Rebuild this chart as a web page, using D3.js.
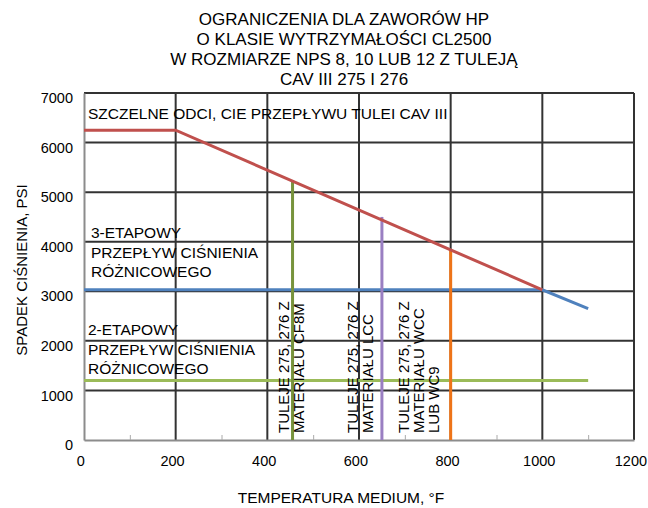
<!DOCTYPE html>
<head>
  <meta charset="utf-8">
  <style>
    body { margin: 0; background: #fff; }
    svg text { font-family: "Liberation Sans", Arial, sans-serif; fill: #000; }
    svg .grid { stroke: #333; stroke-width: 2px; }
    svg .axis .domain { stroke: #8c8c8c; stroke-width: 2px; }
    svg .axis line { stroke: #aaa; }
    svg .tick text { font-size: 14.5px; }
  </style>
</head>
<body>
<script src="https://cdn.jsdelivr.net/npm/d3@7"></script>
<script>
  // chart values
  var titleLines = ["OGRANICZENIA DLA ZAWORÓW HP", "O KLASIE WYTRZYMAŁOŚCI CL2500",
                    "W ROZMIARZE NPS 8, 10 LUB 12 Z TULEJĄ", "CAV III 275 I 276"];
  var xTicks = [0, 200, 400, 600, 800, 1000, 1200];
  var xMinor = [100, 300, 500, 700, 900, 1100];
  var yTicks = [0, 1000, 2000, 3000, 4000, 5000, 6000, 7000];

  var sealTemp = [0, 200, 1000];           // szczelne odcięcie
  var sealPsi  = [6250, 6250, 3030];
  var threeTemp = [0, 1000, 1100];         // 3-etapowy
  var threePsi  = [3030, 3030, 2650];
  var twoTemp = [0, 1100];                 // 2-etapowy
  var twoPsi  = [1200, 1200];

  var matTemp  = [455, 650, 800];
  var matPsi   = [5240, 4500, 3840];
  var matColor = ["#77933c", "#9a7fc2", "#ee7418"];
  var matLabels = [["TULEJE 275, 276 Z", "MATERIAŁU CF8M"],
                   ["TULEJE 275, 276 Z", "MATERIAŁU LCC"],
                   ["TULEJE 275, 276 Z", "MATERIAŁU WCC", "LUB WC9"]];

  var width = 648, height = 508;
  var svg = d3.select("body").append("svg")
      .attr("width", width)
      .attr("height", height);

  var x = d3.scaleLinear().domain([0, 1200]).range([84, 634]);
  var y = d3.scaleLinear().domain([0, 7000]).range([440, 93]);

  // title
  svg.append("g").selectAll("text")
    .data(titleLines).enter()
    .append("text")
      .attr("x", 344)
      .attr("y", function (d, i) { return 25 + i * 20; })
      .attr("text-anchor", "middle")
      .style("font-size", "17px")
      .text(function (d) { return d; });

  // grid
  svg.append("g").selectAll("line")
    .data(yTicks.slice(1)).enter()
    .append("line")
      .classed("grid", true)
      .attr("x1", x(0)).attr("x2", x(1200))
      .attr("y1", function (d) { return y(d); })
      .attr("y2", function (d) { return y(d); });
  svg.append("g").selectAll("line")
    .data(xTicks.slice(1)).enter()
    .append("line")
      .classed("grid", true)
      .attr("y1", y(0)).attr("y2", y(7000))
      .attr("x1", function (d) { return x(d); })
      .attr("x2", function (d) { return x(d); });

  // axes
  var xAxis = d3.axisBottom(x).tickValues(xMinor).tickSizeInner(-5).tickSizeOuter(0).tickFormat("");
  svg.append("g").classed("axis", true)
      .attr("transform", "translate(0," + y(0) + ")")
      .call(xAxis);
  svg.append("g").classed("axis", true)
      .attr("transform", "translate(0," + y(0) + ")")
      .call(d3.axisBottom(x).tickValues(xTicks).tickSize(0).tickPadding(16).tickFormat(d3.format("d")))
    .call(function (g) {
      g.select(".domain").remove();
      g.selectAll(".tick text").attr("dx", "-0.25em");
    });

  svg.append("g").classed("axis", true)
      .attr("transform", "translate(" + x(0) + ",0)")
      .call(d3.axisLeft(y).tickValues(yTicks).tickSize(0).tickPadding(11).tickFormat(d3.format("d")))
    .call(function (g) {
      g.selectAll(".tick text").attr("dy", "0.66em");
    });

  // axis titles
  svg.append("text")
      .attr("x", 341).attr("y", 503)
      .attr("text-anchor", "middle")
      .style("font-size", "15.5px")
      .text("TEMPERATURA MEDIUM, °F");
  svg.append("text")
      .attr("transform", "translate(27,270) rotate(-90)")
      .attr("text-anchor", "middle")
      .style("font-size", "15px")
      .text("SPADEK CIŚNIENIA, PSI");

  // curves
  var line = d3.line()
    .x(function (d) { return x(d[0]); })
    .y(function (d) { return y(d[1]); });

  svg.append("path")
      .attr("d", line(d3.zip(twoTemp, twoPsi)))
      .style("fill", "none").style("stroke", "#9bbb59").style("stroke-width", "3px");
  svg.append("path")
      .attr("d", line(d3.zip(threeTemp, threePsi)))
      .style("fill", "none").style("stroke", "#4f81bd").style("stroke-width", "3px");

  matTemp.forEach(function (t, i) {
    svg.append("line")
        .attr("x1", x(t)).attr("x2", x(t))
        .attr("y1", y(0)).attr("y2", y(matPsi[i]))
        .style("stroke", matColor[i]).style("stroke-width", "3px");
  });

  svg.append("path")
      .attr("d", line(d3.zip(sealTemp, sealPsi)))
      .style("fill", "none").style("stroke", "#c0504d").style("stroke-width", "3px");

  // labels inside the plot
  svg.append("text")
      .attr("x", 88).attr("y", 119)
      .style("font-size", "15.5px")
      .text("SZCZELNE ODCI, CIE PRZEPŁYWU TULEI CAV III");

  var stageText = [["3-ETAPOWY", "PRZEPŁYW CIŚNIENIA", "RÓŻNICOWEGO"],
                   ["2-ETAPOWY", "PRZEPŁYW CIŚNIENIA", "RÓŻNICOWEGO"]];
  [[91, 238], [88, 335]].forEach(function (p, k) {
    svg.append("g").selectAll("text")
      .data(stageText[k]).enter()
      .append("text")
        .attr("x", p[0])
        .attr("y", function (d, i) { return p[1] + i * 19.5; })
        .style("font-size", "15.5px")
        .text(function (d) { return d; });
  });

  var matLabelX = [283, 352, 403];
  matLabels.forEach(function (lines, i) {
    lines.forEach(function (s, j) {
      svg.append("text")
          .attr("transform", "translate(" + (matLabelX[i] + j * 15 + 5.5) + ",433) rotate(-90)")
          .style("font-size", "15px")
          .text(s);
    });
  });
</script>
</body>
</html>
